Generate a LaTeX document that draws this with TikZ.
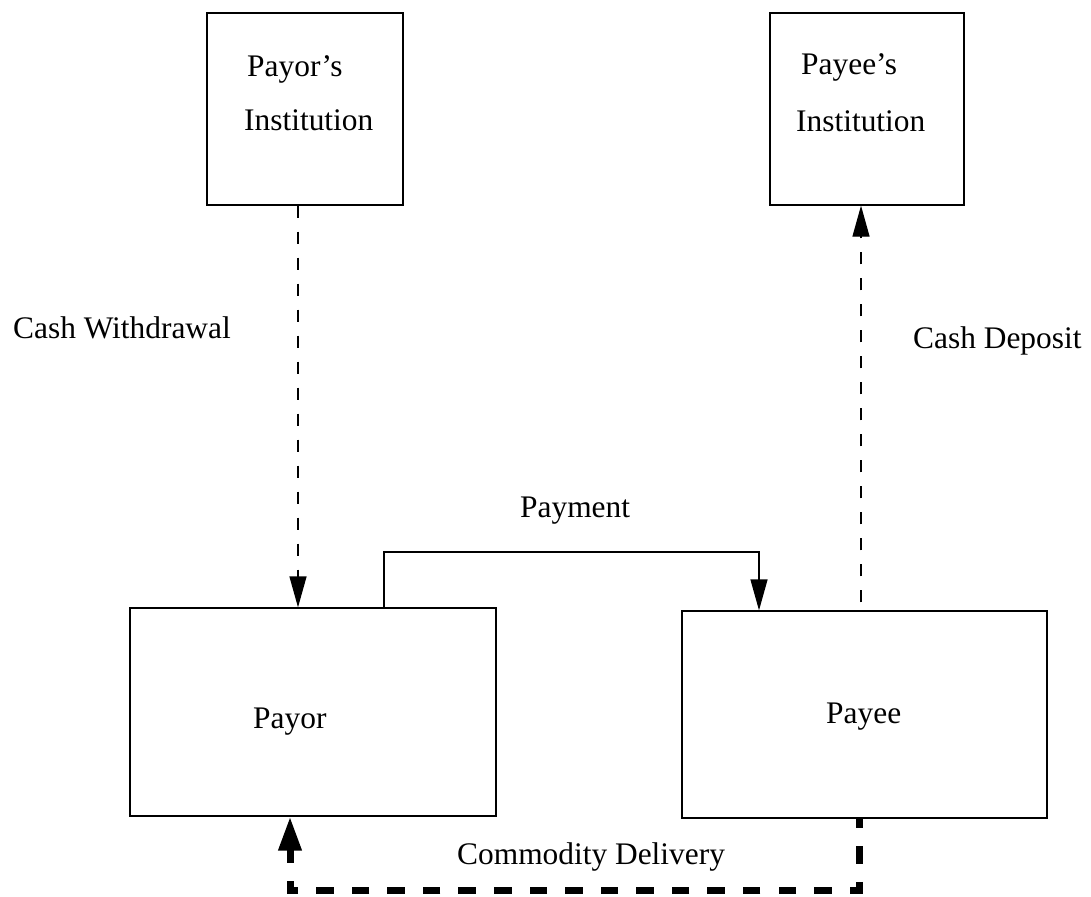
\documentclass[tikz,border=0pt]{standalone}
\usepackage{fontspec}
\setmainfont{Liberation Serif}
\usetikzlibrary{arrows.meta}
\begin{document}
\begin{tikzpicture}[x=1pt,y=-1pt,
  box/.style={draw, line width=1.3pt, inner sep=0pt},
  lbl/.style={anchor=base west, inner sep=0pt, font=\fontsize{31.4}{37}\selectfont},
  cashflow/.style={line width=1.3pt, dash pattern=on 12pt off 14pt,
    -{Triangle[length=31pt,width=17pt]}},
  payflow/.style={line width=1.3pt, -{Triangle[length=31pt,width=17pt]}},
  goodsflow/.style={line width=7pt, dash pattern=on 17.5pt off 18.06pt, dash phase=7.9pt,
    -{Triangle[length=34pt,width=22pt]}}]
\useasboundingbox (0,0) rectangle (1091,896);

% parties and their banks
\node[box, minimum width=196pt, minimum height=192pt] (payorinst) at (305,109) {};
\node[box, minimum width=194pt, minimum height=192pt] (payeeinst) at (867,109) {};
\node[box, minimum width=366pt, minimum height=208pt] (payor) at (313,712) {};
\node[box, minimum width=365pt, minimum height=207pt] (payee) at (864.5,714.5) {};

% box captions
\node[lbl] (payorinstA) at (247,77) {Payor’s};
\node[lbl] (payorinstB) at (244,131) {Institution};
\node[lbl] (payeeinstA) at (801,75) {Payee’s};
\node[lbl] (payeeinstB) at (796,132) {Institution};
\node[lbl] (payortxt) at (253,728) {Payor};
\node[lbl] (payeetxt) at (826,723) {Payee};

% flow labels
\node[lbl] (withdrawal) at (13,338) {Cash Withdrawal};
\node[lbl] (deposit) at (913,348) {Cash Deposit};
\node[lbl] (payment) at (520,517) {Payment};
\node[lbl] (delivery) at (457,864) {Commodity Delivery};

% routing points
\coordinate (wx) at (298,0);
\coordinate (dx) at (861,0);
\coordinate (pa) at (384,552);
\coordinate (pb) at (759,552);
\coordinate (ca) at (859,890);
\coordinate (cb) at (290,890);

% cash movements
\draw[cashflow] (payorinst.south -| wx) -- (payor.north -| wx);
\draw[cashflow, dash phase=18pt] (payee.north -| dx) -- (payeeinst.south -| dx);

% payment
\draw[payflow] (payor.north -| pa) |- (pb) -- (payee.north -| pb);

% goods
\draw[goodsflow] (payee.south -| ca) -- (ca) -- (cb) -- (payor.south -| cb);
\end{tikzpicture}
\end{document}
